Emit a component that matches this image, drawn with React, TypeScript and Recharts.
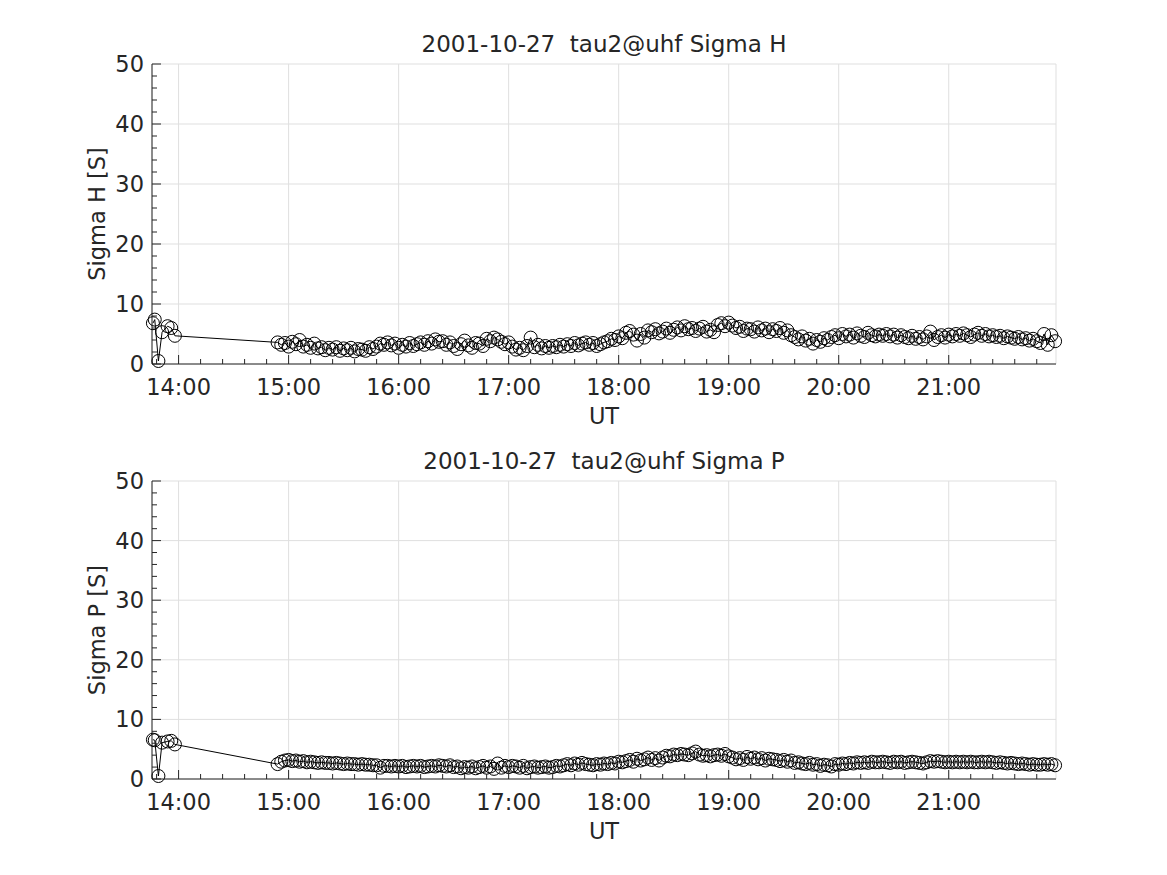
import { CartesianGrid, Line, LineChart, XAxis, YAxis } from 'recharts'

// UT sample times (radar dumps)
const utTimes = [
	'13:46', '13:47', '13:49', '13:51', '13:54', '13:56', '13:58',
	'14:54', '14:56', '14:58', '15:00', '15:02', '15:04', '15:06', '15:08', '15:10', '15:12', '15:14', '15:16', '15:18', '15:20', '15:22',
	'15:24', '15:26', '15:28', '15:30', '15:32', '15:34', '15:36', '15:38', '15:40', '15:42', '15:44', '15:46', '15:48', '15:50', '15:52',
	'15:54', '15:56', '15:58', '16:00', '16:02', '16:04', '16:06', '16:08', '16:10', '16:12', '16:14', '16:16', '16:18', '16:20', '16:22',
	'16:24', '16:26', '16:28', '16:30', '16:32', '16:34', '16:36', '16:38', '16:40', '16:42', '16:44', '16:46', '16:48', '16:50', '16:52',
	'16:54', '16:56', '16:58', '17:00', '17:02', '17:04', '17:06', '17:08', '17:10', '17:12', '17:14', '17:16', '17:18', '17:20', '17:22',
	'17:24', '17:26', '17:28', '17:30', '17:32', '17:34', '17:36', '17:38', '17:40', '17:42', '17:44', '17:46', '17:48', '17:50', '17:52',
	'17:54', '17:56', '17:58', '18:00', '18:02', '18:04', '18:06', '18:08', '18:10', '18:12', '18:14', '18:16', '18:18', '18:20', '18:22',
	'18:24', '18:26', '18:28', '18:30', '18:32', '18:34', '18:36', '18:38', '18:40', '18:42', '18:44', '18:46', '18:48', '18:50', '18:52',
	'18:54', '18:56', '18:58', '19:00', '19:02', '19:04', '19:06', '19:08', '19:10', '19:12', '19:14', '19:16', '19:18', '19:20', '19:22',
	'19:24', '19:26', '19:28', '19:30', '19:32', '19:34', '19:36', '19:38', '19:40', '19:42', '19:44', '19:46', '19:48', '19:50', '19:52',
	'19:54', '19:56', '19:58', '20:00', '20:02', '20:04', '20:06', '20:08', '20:10', '20:12', '20:14', '20:16', '20:18', '20:20', '20:22',
	'20:24', '20:26', '20:28', '20:30', '20:32', '20:34', '20:36', '20:38', '20:40', '20:42', '20:44', '20:46', '20:48', '20:50', '20:52',
	'20:54', '20:56', '20:58', '21:00', '21:02', '21:04', '21:06', '21:08', '21:10', '21:12', '21:14', '21:16', '21:18', '21:20', '21:22',
	'21:24', '21:26', '21:28', '21:30', '21:32', '21:34', '21:36', '21:38', '21:40', '21:42', '21:44', '21:46', '21:48', '21:50', '21:52',
	'21:54', '21:56', '21:58',
]

const sigmaH = [
	6.8, 7.4, 0.5, 5.3, 6.3, 6.0, 4.7,
	3.6, 3.2, 3.5, 2.9, 3.7, 3.3, 4.0, 2.9, 3.2, 2.7, 3.4, 2.6, 2.8, 2.3, 2.7,
	2.4, 2.8, 2.2, 2.6, 2.3, 2.7, 2.1, 2.5, 2.4, 2.2, 2.8, 2.5, 2.9, 3.4, 3.2,
	3.6, 3.1, 3.4, 2.7, 3.2, 2.9, 3.5, 3.0, 3.3, 3.6, 3.2, 3.8, 3.4, 4.1, 3.7,
	3.8, 3.2, 3.6, 3.0, 2.5, 3.3, 3.9, 3.1, 2.7, 3.5, 3.4, 3.0, 4.2, 3.8, 4.4,
	4.1, 3.7, 3.3, 3.6, 2.9, 2.4, 2.7, 2.3, 3.0, 4.4, 2.8, 3.2, 2.6, 3.0, 2.7,
	3.0, 2.8, 3.2, 2.9, 3.3, 3.0, 3.5, 3.1, 3.4, 3.6, 3.2, 3.5, 3.0, 3.3, 3.6,
	3.8, 4.2, 4.0, 4.6, 4.3, 5.2, 5.5, 4.9, 3.9, 5.0, 4.4, 5.6, 5.3, 5.8, 5.1,
	5.4, 5.9, 5.2, 5.7, 6.1, 5.6, 6.3, 5.8, 6.0, 5.5, 5.9, 6.2, 5.4, 5.7, 5.3,
	6.5, 6.8, 6.3, 6.9, 6.4, 6.0, 6.2, 5.5, 5.9, 5.8, 5.4, 6.1, 5.6, 5.9, 5.3,
	5.8, 5.5, 6.0, 5.2, 5.6, 4.8, 4.5, 4.1, 4.6, 3.9, 4.2, 3.4, 4.0, 3.7, 4.3,
	4.0, 4.5, 4.8, 4.3, 5.0, 4.6, 4.9, 4.4, 5.1, 4.7, 4.5, 5.2, 4.8, 4.6, 4.9,
	4.7, 5.0, 4.6, 4.9, 4.4, 4.8, 4.5, 4.3, 4.7, 4.2, 4.5, 4.1, 4.6, 5.4, 4.0,
	4.5, 4.8, 4.4, 4.9, 4.6, 5.0, 4.7, 5.1, 4.8, 4.5, 4.9, 5.2, 4.7, 5.0, 4.6,
	4.8, 4.5, 4.7, 4.3, 4.6, 4.4, 4.2, 4.5, 4.1, 4.3, 3.9, 4.2, 3.8, 3.5, 5.0,
	3.2, 4.8, 3.8,
]

const sigmaP = [
	6.6, 6.5, 0.5, 6.1, 6.3, 6.4, 5.8,
	2.5, 2.9, 3.1, 3.2, 3.0, 3.1, 2.9, 3.0, 2.8, 2.9, 2.8, 2.7, 2.8, 2.7, 2.7,
	2.6, 2.7, 2.6, 2.5, 2.6, 2.5, 2.5, 2.4, 2.5, 2.4, 2.4, 2.3, 2.3, 1.9, 2.2,
	2.2, 2.1, 2.2, 2.1, 2.2, 2.0, 2.1, 2.2, 2.1, 2.2, 2.0, 2.1, 2.2, 2.1, 2.3,
	2.2, 2.1, 2.3, 2.0, 2.1, 1.8, 2.0, 1.9, 2.1, 1.8, 2.0, 2.2, 1.9, 2.1, 1.7,
	2.6, 1.9, 2.2, 2.0, 2.2, 2.1, 1.9, 2.2, 1.8, 2.0, 2.1, 1.9, 2.0, 2.1, 1.9,
	2.0, 2.2, 2.1, 2.3, 2.5, 2.3, 2.6, 2.4, 2.7, 2.5, 2.4, 2.3, 2.5, 2.4, 2.6,
	2.5, 2.7, 2.6, 2.9, 2.8, 3.0, 3.2, 2.9, 3.4, 3.1, 3.3, 3.6, 3.2, 3.5, 3.1,
	3.6, 3.9, 3.8, 4.1, 4.0, 4.2, 4.1, 4.0, 4.3, 4.6, 4.1, 3.9, 4.0, 3.8, 4.0,
	4.1, 3.9, 4.2, 3.8, 3.6, 3.3, 3.5, 3.2, 3.7, 3.4, 3.6, 3.3, 3.5, 3.1, 3.4,
	3.3, 3.2, 3.0, 3.2, 2.9, 3.1, 2.7, 2.8, 2.6, 2.5, 2.7, 2.4, 2.5, 2.2, 2.4,
	2.3, 2.1, 2.5, 2.4, 2.6, 2.5, 2.7, 2.6, 2.8, 2.7, 2.8, 2.7, 2.9, 2.8, 2.8,
	2.9, 2.8, 2.7, 2.9, 2.8, 2.9, 2.7, 2.8, 2.9, 2.8, 2.7, 2.6, 2.8, 3.0, 2.9,
	3.0, 2.9, 2.8, 2.9, 2.8, 2.9, 2.8, 2.9, 2.8, 2.9, 2.8, 2.8, 2.9, 2.8, 2.9,
	2.8, 2.7, 2.8, 2.7, 2.6, 2.7, 2.6, 2.5, 2.6, 2.5, 2.4, 2.5, 2.4, 2.4, 2.5,
	2.4, 2.5, 2.3,
]

const hourTicks = ['14:00', '15:00', '16:00', '17:00', '18:00', '19:00', '20:00', '21:00']
const minorTimeTicks = [
	'13:48', '14:00', '14:12', '14:24', '14:36', '14:48', '15:00', '15:12', '15:24', '15:36', '15:48',
	'16:00', '16:12', '16:24', '16:36', '16:48', '17:00', '17:12', '17:24', '17:36', '17:48',
	'18:00', '18:12', '18:24', '18:36', '18:48', '19:00', '19:12', '19:24', '19:36', '19:48',
	'20:00', '20:12', '20:24', '20:36', '20:48', '21:00', '21:12', '21:24', '21:36', '21:48',
]
const yMajorTicks = [0, 10, 20, 30, 40, 50]
const yMinorTicks = [0, 2, 4, 6, 8, 10, 12, 14, 16, 18, 20, 22, 24, 26, 28, 30, 32, 34, 36, 38, 40, 42, 44, 46, 48, 50]

const INK = '#262626'
const GRID = '#dfdfdf'
const FONT = '"DejaVu Sans", sans-serif'
const X_DOMAIN = [825.5, 1318.5]
const Y_DOMAIN = [0, 50]

const toMin = (t: string) => {
	const [h, m] = t.split(':').map(Number)
	return h * 60 + m
}
const fmtTime = (v: number) => `${Math.floor(v / 60)}:${String(v % 60).padStart(2, '0')}`

const hourMins = hourTicks.map(toMin)
const minorMins = minorTimeTicks.map(toMin)

const MAJOR_LEN = 9
const MINOR_LEN = 5

function BottomTick(props: any) {
	const { x, y, payload } = props
	const major = hourMins.includes(payload.value)
	return (
		<g>
			<line x1={x} y1={y} x2={x} y2={y - (major ? MAJOR_LEN : MINOR_LEN)} stroke={INK} />
			{major && (
				<text x={x} y={y + 31} textAnchor="middle" fill={INK} fontSize={22.5} fontFamily={FONT}>
					{fmtTime(payload.value)}
				</text>
			)}
		</g>
	)
}

function TopTick(props: any) {
	const { x, y, payload } = props
	const major = hourMins.includes(payload.value)
	return <line x1={x} y1={y} x2={x} y2={y + (major ? MAJOR_LEN : MINOR_LEN)} stroke={INK} />
}

function LeftTick(props: any) {
	const { x, y, payload } = props
	const major = yMajorTicks.includes(payload.value)
	return (
		<g>
			<line x1={x} y1={y} x2={x + (major ? MAJOR_LEN : MINOR_LEN)} y2={y} stroke={INK} />
			{major && (
				<text x={x - 8} y={y + 8} textAnchor="end" fill={INK} fontSize={22.5} fontFamily={FONT}>
					{payload.value}
				</text>
			)}
		</g>
	)
}

function RightTick(props: any) {
	const { x, y, payload } = props
	const major = yMajorTicks.includes(payload.value)
	return <line x1={x} y1={y} x2={x - (major ? MAJOR_LEN : MINOR_LEN)} y2={y} stroke={INK} />
}

interface SigmaPanelProps {
	title: string
	yLabel: string
	values: number[]
	top: number
	height: number
}

function SigmaPanel({ title, yLabel, values, top, height }: SigmaPanelProps) {
	const data = utTimes.map((t, i) => ({ t: toMin(t), v: values[i] }))

	return (
		<div style={{ position: 'absolute', left: 0, top, width: 1167, height }}>
			<div
				style={{
					position: 'absolute',
					left: 152,
					width: 904,
					top: 31,
					textAlign: 'center',
					whiteSpace: 'pre',
					fontSize: 23,
					lineHeight: '26px',
					color: INK,
				}}
			>
				{title}
			</div>
			<LineChart width={1167} height={height} data={data} margin={{ top: 64, right: 111, bottom: 16, left: 72 }}>
				{/* zero-size hidden axes: only used to place the grid at the major ticks */}
				<XAxis xAxisId="grid-x" type="number" dataKey="t" domain={X_DOMAIN} ticks={hourMins} height={0} hide />
				<YAxis yAxisId="grid-y" type="number" dataKey="v" domain={Y_DOMAIN} ticks={yMajorTicks} width={0} hide />
				<CartesianGrid xAxisId="grid-x" yAxisId="grid-y" stroke={GRID} />
				<XAxis
					xAxisId="ut"
					type="number"
					dataKey="t"
					domain={X_DOMAIN}
					ticks={minorMins}
					interval={0}
					height={60}
					tickSize={0}
					tickMargin={0}
					tickLine={false}
					tick={(p: any) => <BottomTick {...p} />}
					axisLine={{ stroke: INK }}
					label={{ value: 'UT', position: 'insideBottom', offset: 0, style: { fill: INK, fontSize: 22.5 } }}
				/>
				<XAxis
					xAxisId="ut-top"
					orientation="top"
					type="number"
					domain={X_DOMAIN}
					ticks={minorMins}
					interval={0}
					height={0}
					tickSize={0}
					tickMargin={0}
					tickLine={false}
					tick={(p: any) => <TopTick {...p} />}
					axisLine={{ stroke: INK }}
				/>
				<YAxis
					yAxisId="s"
					type="number"
					dataKey="v"
					domain={Y_DOMAIN}
					ticks={yMinorTicks}
					interval={0}
					width={80}
					tickSize={0}
					tickMargin={0}
					tickLine={false}
					tick={(p: any) => <LeftTick {...p} />}
					axisLine={{ stroke: INK }}
					label={{
						value: yLabel,
						angle: -90,
						position: 'insideLeft',
						offset: 25,
						style: { textAnchor: 'middle', fill: INK, fontSize: 22.5 },
					}}
				/>
				<YAxis
					yAxisId="s-right"
					orientation="right"
					type="number"
					dataKey="v"
					domain={Y_DOMAIN}
					ticks={yMinorTicks}
					interval={0}
					width={0}
					tickSize={0}
					tickMargin={0}
					tickLine={false}
					tick={(p: any) => <RightTick {...p} />}
					axisLine={{ stroke: INK }}
				/>
				<Line
					xAxisId="ut"
					yAxisId="s"
					type="linear"
					dataKey="v"
					stroke="#000"
					strokeWidth={1}
					dot={{ r: 6.5, stroke: '#000', strokeWidth: 1, fill: 'none' }}
					activeDot={false}
					isAnimationActive={false}
				/>
			</LineChart>
		</div>
	)
}

export default function App() {
	return (
		<div
			style={{
				position: 'absolute',
				left: 0,
				top: 0,
				width: 1167,
				height: 875,
				background: '#fff',
				fontFamily: FONT,
			}}
		>
			<SigmaPanel title="2001-10-27  tau2@uhf Sigma H" yLabel="Sigma H [S]" values={sigmaH} top={0} height={440} />
			<SigmaPanel title="2001-10-27  tau2@uhf Sigma P" yLabel="Sigma P [S]" values={sigmaP} top={417} height={438} />
		</div>
	)
}
